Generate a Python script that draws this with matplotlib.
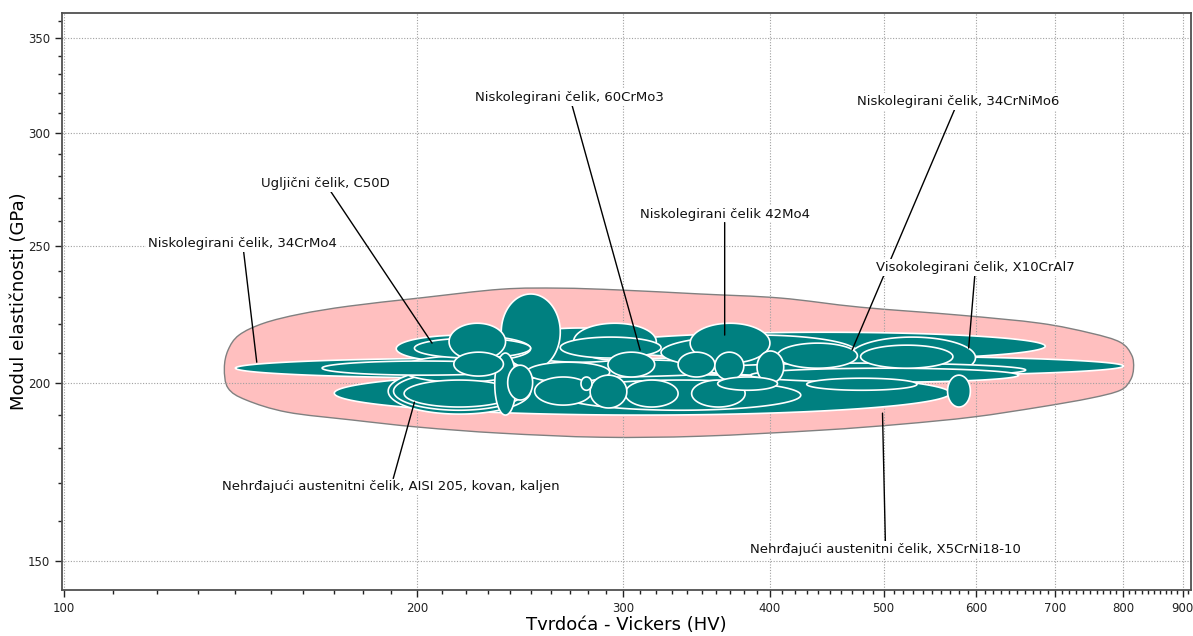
import numpy as np
import matplotlib.pyplot as plt
from matplotlib.patches import Polygon, PathPatch
from matplotlib.path import Path
import matplotlib.ticker as mticker

# material bubbles: hardness range (HV) and modulus range (GPa)
hv_lo = [140, 166, 170, 265, 287, 467, 478, 349, 385, 567, 342, 272, 213, 236, 192, 199, 238, 215,
         233, 239, 252, 276, 195, 189, 191, 291, 334, 359, 390, 361, 281, 301, 343, 406, 430, 265,
         323, 194, 265, 248]
hv_hi = [393, 247, 570, 801, 687, 599, 573, 661, 652, 593, 400, 320, 238, 265, 250, 250, 319, 237,
         243, 251, 282, 282, 242, 250, 247, 319, 359, 380, 411, 406, 302, 334, 381, 475, 534, 323,
         475, 245, 425, 292]
e_lo = [201.6, 202.6, 189.9, 202.3, 207.6, 201.6, 204.9, 202.0, 200.3, 192.4, 206.6, 207.6, 207.6,
        204.3, 206.9, 208.3, 206.9, 202.3, 189.9, 194.6, 193.0, 197.7, 192.4, 190.2, 191.4, 202.0,
        202.0, 201.0, 200.0, 197.7, 192.1, 192.4, 192.4, 204.9, 197.7, 208.3, 204.3, 200.3, 191.4,
        200.3]
e_hi = [208.3, 207.3, 203.9, 209.0, 217.2, 215.5, 212.7, 206.6, 204.9, 202.6, 220.4, 220.4, 220.4,
        231.1, 216.2, 215.1, 218.7, 210.3, 210.0, 205.9, 202.0, 202.0, 201.0, 204.9, 203.6, 210.3,
        210.3, 210.3, 210.7, 202.0, 202.6, 201.0, 201.0, 213.4, 201.6, 215.5, 216.2, 209.0, 201.0,
        206.9]

# family envelope outline
env_hv = [137, 138, 141, 148, 159, 175, 201, 236, 265, 298, 349, 408, 478, 581, 680, 751, 796,
          814, 817, 812, 796, 751, 680, 596, 517, 442, 349, 287, 236, 201, 176, 155, 143, 138]
env_e = [204.9, 211.0, 216.2, 220.4, 223.7, 226.6, 229.6, 232.9, 233.3, 232.6, 231.1, 229.6,
         226.2, 223.3, 220.4, 216.9, 213.7, 209.3, 204.9, 201.0, 197.7, 195.2, 192.4, 189.3,
         187.1, 185.3, 183.5, 183.2, 184.4, 186.2, 188.4, 190.8, 194.6, 198.4]

labels = ['Niskolegirani čelik, 34CrMo4', 'Ugljični čelik, C50D',
          'Niskolegirani čelik, 60CrMo3', 'Niskolegirani čelik 42Mo4',
          'Niskolegirani čelik, 34CrNiMo6', 'Visokolegirani čelik, X10CrAl7',
          'Nehrđajući austenitni čelik, AISI 205, kovan, kaljen',
          'Nehrđajući austenitni čelik, X5CrNi18-10']
label_hv = [142, 167, 270, 366, 579, 599, 190, 502]
label_e = [251.0, 276.6, 318.0, 263.1, 316.0, 241.4, 169.0, 152.6]
point_hv = [146, 206, 310, 366, 470, 591, 199, 499]
point_e = [206.9, 213.4, 211.0, 216.2, 211.0, 211.7, 193.9, 190.5]

x_major = [100, 200, 300, 400, 500, 600, 700, 800, 900]
y_major = [150, 200, 250, 300, 350]

fig = plt.figure(figsize=(11.93, 6.36), dpi=100)
ax = fig.add_axes([0.052, 0.0723, 0.9465, 0.9073])
ax.set_xscale('log')
ax.set_yscale('log')
ax.set_xlim(99.6, 915)
ax.set_ylim(143, 364.5)

# envelope, smoothed in log space
lu = np.log10(env_hv)
lv = np.log10(env_e)
n = len(lu)
verts = [(env_hv[0], env_e[0])]
codes = [Path.MOVETO]
for i in range(n):
    p0 = np.array([lu[i - 1], lv[i - 1]])
    p1 = np.array([lu[i], lv[i]])
    p2 = np.array([lu[(i + 1) % n], lv[(i + 1) % n]])
    p3 = np.array([lu[(i + 2) % n], lv[(i + 2) % n]])
    c1 = p1 + (p2 - p0) / 6
    c2 = p2 - (p3 - p1) / 6
    for q in (c1, c2, p2):
        verts.append((10 ** q[0], 10 ** q[1]))
        codes.append(Path.CURVE4)
ax.add_patch(PathPatch(Path(verts, codes), fc='#ffbfbf', ec='#808080', lw=1, zorder=0.4))

# bubbles: ellipses in log space, biggest drawn first
bubbles = sorted(zip(hv_lo, hv_hi, e_lo, e_hi),
                 key=lambda r: -np.log10(r[1] / r[0]) * np.log10(r[3] / r[2]))
t = np.linspace(0, 2 * np.pi, 160)
for h0, h1, m0, m1 in bubbles:
    a0, a1 = np.log10(h0), np.log10(h1)
    b0, b1 = np.log10(m0), np.log10(m1)
    u = (a0 + a1) / 2 + (a1 - a0) / 2 * np.cos(t)
    v = (b0 + b1) / 2 + (b1 - b0) / 2 * np.sin(t)
    ax.add_patch(Polygon(np.column_stack([10 ** u, 10 ** v]), fc='#008080', ec='white',
                         lw=1.2, zorder=2))

for txt, tx, ty, px, py in zip(labels, label_hv, label_e, point_hv, point_e):
    ax.annotate(txt, xy=(px, py), xytext=(tx, ty), ha='center', va='center', fontsize=9.5,
                color='#111111', zorder=5,
                bbox=dict(boxstyle='square,pad=0.15', fc='white', ec='none'),
                arrowprops=dict(arrowstyle='-', color='black', lw=1, shrinkA=0, shrinkB=0))

ax.xaxis.set_major_locator(mticker.FixedLocator(x_major))
ax.xaxis.set_minor_locator(mticker.FixedLocator([v for v in range(110, 911, 10) if v % 100]))
ax.yaxis.set_major_locator(mticker.FixedLocator(y_major))
ax.yaxis.set_minor_locator(mticker.FixedLocator([v for v in range(150, 361, 10) if v % 50]))
ax.xaxis.set_major_formatter(mticker.FixedFormatter([str(v) for v in x_major]))
ax.yaxis.set_major_formatter(mticker.FixedFormatter([str(v) for v in y_major]))
ax.xaxis.set_minor_formatter(mticker.NullFormatter())
ax.yaxis.set_minor_formatter(mticker.NullFormatter())
ax.tick_params(which='major', length=5, width=1, labelsize=8.5, colors='#222222')
ax.tick_params(which='minor', length=3, width=1, colors='#222222')
ax.tick_params(axis='x', which='both', top=False)
ax.tick_params(axis='y', which='both', right=False)
ax.grid(True, which='major', color='#a0a0a0', linestyle=(0, (1, 1.5)), lw=0.8)
ax.set_axisbelow(True)
for s in ax.spines.values():
    s.set_color('#505050')
    s.set_linewidth(1.3)

ax.set_xlabel('Tvrdoća - Vickers (HV)', fontsize=13, labelpad=1)
ax.set_ylabel('Modul elastičnosti (GPa)', fontsize=13, labelpad=0)

fig.savefig('out.png')
